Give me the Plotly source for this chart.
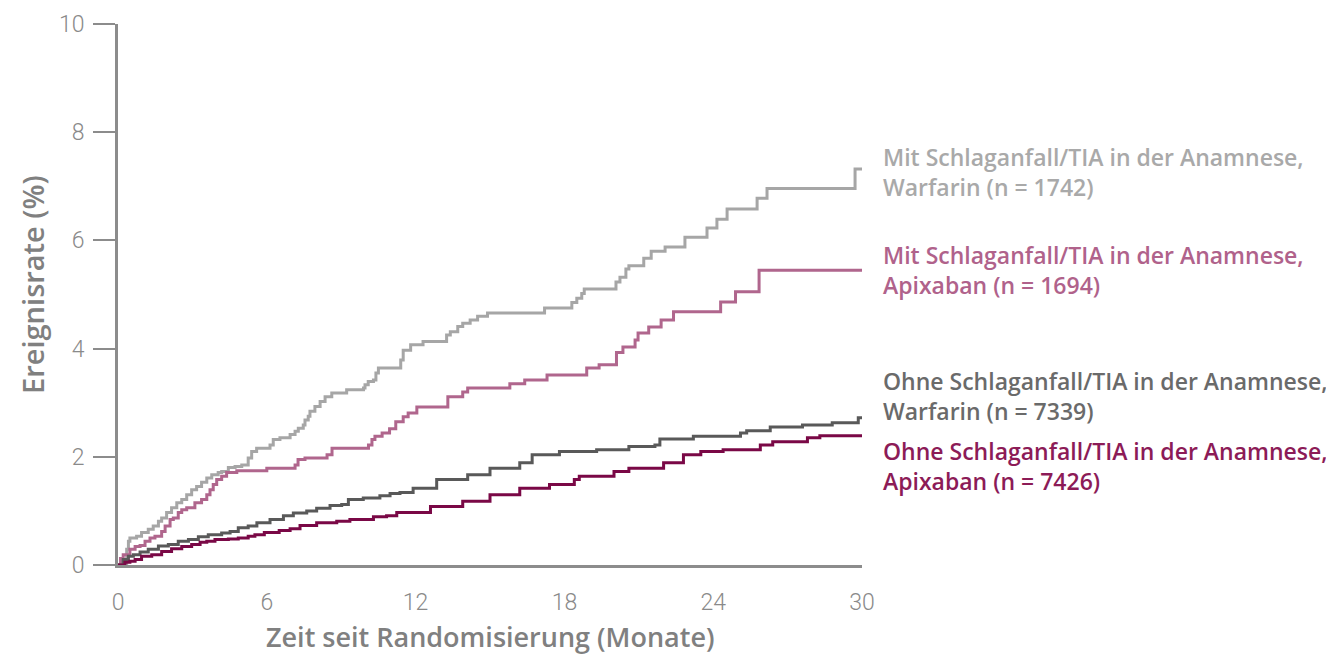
import plotly.graph_objects as go

# ---- data ----
mit_warf_t = [0, 0.35, 0.42, 0.48, 0.75, 0.95, 1.22, 1.42, 1.63, 1.76, 1.96, 2.16, 2.37, 2.57, 2.77, 2.97,
              3.17, 3.37, 3.58, 3.78, 4.04, 4.18, 4.45, 4.72, 4.99, 5.25, 5.39, 5.59, 6.13, 6.26, 6.53, 6.94,
              7.14, 7.27, 7.47, 7.54, 7.67, 7.74, 7.94, 8.15, 8.35, 8.62, 9.22, 9.9, 9.96, 10.09, 10.3, 10.4,
              10.5, 11.4, 11.5, 11.8, 12.3, 13.25, 13.4, 13.7, 13.9, 14.2, 14.5, 14.9, 17.2, 18.3, 18.5, 18.7,
              18.8, 20.08, 20.24, 20.48, 20.6, 21.2, 21.5, 22.06, 22.86, 23.75, 24.15, 24.56, 25.77, 26.17,
              29.72, 30]
mit_warf_v = [0, 0.29, 0.44, 0.50, 0.53, 0.60, 0.66, 0.72, 0.81, 0.87, 0.97, 1.06, 1.15, 1.21, 1.30, 1.39,
              1.45, 1.53, 1.61, 1.67, 1.71, 1.73, 1.80, 1.82, 1.85, 1.98, 2.10, 2.16, 2.22, 2.32, 2.35, 2.41,
              2.47, 2.53, 2.59, 2.68, 2.75, 2.84, 2.93, 3.02, 3.11, 3.18, 3.24, 3.27, 3.33, 3.39, 3.42, 3.55,
              3.64, 3.79, 3.97, 4.07, 4.13, 4.25, 4.31, 4.41, 4.47, 4.53, 4.60, 4.66, 4.75, 4.85, 4.93, 5.02,
              5.10, 5.23, 5.32, 5.47, 5.53, 5.67, 5.80, 5.88, 6.06, 6.23, 6.39, 6.58, 6.78, 6.96,
              7.32, 7.32]

mit_apix_t = [0, 0.1, 0.21, 0.48, 0.69, 0.89, 1.09, 1.29, 1.49, 1.76, 1.9, 2.1, 2.23, 2.43, 2.57, 2.77, 3.1,
              3.37, 3.58, 3.71, 3.84, 3.98, 4.18, 4.38, 4.79, 6.0, 7.14, 7.26, 7.54, 8.43, 8.63, 10.1, 10.24,
              10.36, 10.65, 10.95, 11.2, 11.5, 11.7, 12.05, 13.3, 13.9, 14.1, 15.8, 16.4, 17.3, 18.9, 19.4,
              20.1, 20.36, 20.85, 20.97, 21.4, 21.9, 22.4, 24.3, 24.9, 25.85, 30]
mit_apix_v = [0, 0.12, 0.19, 0.29, 0.34, 0.36, 0.44, 0.50, 0.53, 0.62, 0.72, 0.84, 0.87, 0.97, 1.02, 1.06, 1.15,
              1.21, 1.30, 1.39, 1.49, 1.58, 1.64, 1.71, 1.74, 1.79, 1.85, 1.95, 1.98, 2.04, 2.16, 2.22, 2.32,
              2.38, 2.44, 2.52, 2.65, 2.74, 2.81, 2.92, 3.11, 3.20, 3.27, 3.35, 3.42, 3.51, 3.64, 3.70,
              3.93, 4.03, 4.16, 4.29, 4.40, 4.53, 4.68, 4.86, 5.05, 5.45, 5.45]

ohne_warf_t = [0, 0.21, 0.42, 0.62, 0.89, 1.22, 1.63, 2.03, 2.43, 2.84, 3.24, 3.64, 4.18, 4.52, 4.85, 5.25,
               5.6, 6.13, 6.67, 7.07, 7.61, 8.01, 8.55, 9.02, 9.29, 9.89, 10.56, 10.97, 11.37, 11.9, 12.85,
               14.1, 15.0, 16.2, 16.7, 17.8, 19.3, 20.6, 21.65, 21.85, 23.2, 25.1, 25.35, 26.3, 27.6, 28.8,
               29.85, 30]
ohne_warf_v = [0, 0.10, 0.16, 0.19, 0.24, 0.29, 0.35, 0.38, 0.44, 0.47, 0.52, 0.56, 0.59, 0.62, 0.69, 0.72,
               0.78, 0.84, 0.91, 0.96, 1.00, 1.05, 1.10, 1.12, 1.21, 1.24, 1.28, 1.32, 1.34, 1.42, 1.58,
               1.67, 1.79, 1.89, 2.04, 2.10, 2.13, 2.19, 2.22, 2.33, 2.38, 2.44, 2.48, 2.55, 2.59, 2.63,
               2.72, 2.72]

ohne_apix_t = [0, 0.28, 0.48, 0.69, 0.95, 1.36, 1.76, 2.16, 2.57, 2.97, 3.31, 3.58, 3.91, 4.45, 4.85, 5.25,
               5.52, 5.9, 6.5, 6.94, 7.34, 8.01, 8.82, 9.35, 10.3, 10.83, 11.24, 12.6, 13.9, 15.0, 16.2, 17.4,
               18.4, 18.6, 20.0, 20.6, 22.0, 22.8, 23.5, 24.4, 25.9, 26.4, 27.8, 28.3, 30]
ohne_apix_v = [0, 0.05, 0.07, 0.10, 0.16, 0.19, 0.25, 0.30, 0.34, 0.38, 0.42, 0.44, 0.47, 0.48, 0.50, 0.53,
               0.56, 0.60, 0.64, 0.67, 0.73, 0.78, 0.81, 0.84, 0.89, 0.91, 0.97, 1.08, 1.18, 1.30, 1.42, 1.49,
               1.58, 1.64, 1.73, 1.79, 1.89, 2.04, 2.10, 2.13, 2.22, 2.28, 2.35, 2.39, 2.39]

series_labels = [
    "Mit Schlaganfall/TIA in der Anamnese,<br>Warfarin (n = 1742)",
    "Mit Schlaganfall/TIA in der Anamnese,<br>Apixaban (n = 1694)",
    "Ohne Schlaganfall/TIA in der Anamnese,<br>Warfarin (n = 7339)",
    "Ohne Schlaganfall/TIA in der Anamnese,<br>Apixaban (n = 7426)",
]
label_y = [7.26, 5.46, 3.13, 1.83]
x_ticks = [0, 6, 12, 18, 24, 30]
y_ticks = [0, 2, 4, 6, 8, 10]
x_title = "Zeit seit Randomisierung (Monate)"
y_title = "Ereignisrate (%)"

line_colors = ["#a6a6a6", "#b0668d", "#595959", "#7a0846"]
text_colors = ["#a9a9a9", "#b0628b", "#6a6a6a", "#8c1b57"]

fig = go.Figure()
all_series = [(mit_warf_t, mit_warf_v), (mit_apix_t, mit_apix_v),
              (ohne_warf_t, ohne_warf_v), (ohne_apix_t, ohne_apix_v)]
for i in range(4):
    t, v = all_series[i]
    fig.add_trace(go.Scatter(x=t, y=v, mode="lines", line=dict(color=line_colors[i], width=3, shape="hv"),
                             showlegend=False, hoverinfo="skip", cliponaxis=False))

for i, lab in enumerate(series_labels):
    fig.add_annotation(x=1.0255, xref="paper", y=label_y[i], yref="y", text=lab, showarrow=False,
                       xanchor="left", yanchor="middle", align="left",
                       font=dict(family="Open Sans", size=23, color=text_colors[i], weight=600))

fig.add_annotation(x=0.5, xref="paper", y=-0.133, yref="paper", text=x_title, showarrow=False,
                   xanchor="center", yanchor="middle",
                   font=dict(family="Open Sans", size=27, color="#808080", weight=600))
fig.add_annotation(x=-0.114, xref="paper", y=0.518, yref="paper", text=y_title, showarrow=False, textangle=-90,
                   xanchor="center", yanchor="middle",
                   font=dict(family="Open Sans", size=29, color="#808080", weight=600))

axis_gray = "#8c8c8c"
fig.update_xaxes(range=[0, 30], tickvals=x_ticks, ticks="", showgrid=False, zeroline=False,
                 showline=True, linecolor=axis_gray, linewidth=3, automargin=False,
                 tickfont=dict(family="Roboto", size=23, color="#8a8a8a", weight=300),
                 ticklabelstandoff=14)
fig.update_yaxes(range=[0, 10], tickvals=y_ticks, ticks="outside", ticklen=22, tickwidth=2,
                 tickcolor=axis_gray, showgrid=False, zeroline=False,
                 showline=True, linecolor=axis_gray, linewidth=3, automargin=False,
                 tickfont=dict(family="Roboto", size=23, color="#8a8a8a", weight=300),
                 ticklabelstandoff=4)

fig.update_layout(width=1326, height=657, margin=dict(l=118, r=464, t=24, b=91.5, autoexpand=False),
                  plot_bgcolor="white", paper_bgcolor="white")

fig.write_html("out.html", config={"displayModeBar": False},
               post_script="document.body.style.margin='0';document.body.style.overflow='hidden';")
